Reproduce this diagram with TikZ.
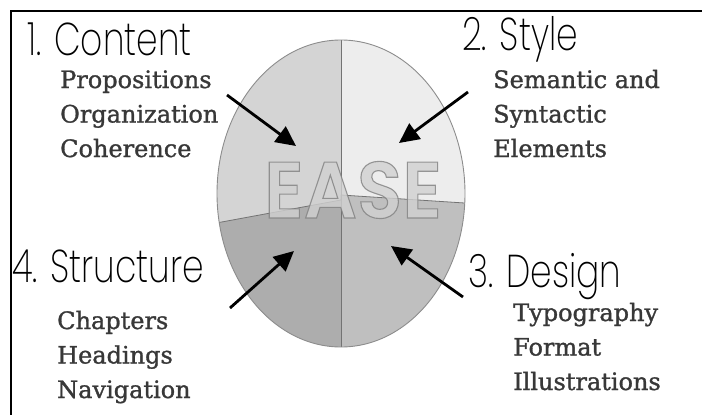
\documentclass[tikz,border=0pt]{standalone}
\usepackage{fontspec}
\usetikzlibrary{arrows.meta}
\newfontfamily\headfont[FakeStretch=0.75]{Poppins ExtraLight}
\newfontfamily\itemfont[FakeBold=1.2]{DejaVu Serif}
\newfontfamily\logofont[FakeStretch=0.93]{Poppins SemiBold}
% hollow letters: stroke the outline, fill with the text colour
\newcommand\hollow[1]{\special{pdf:literal direct 2 Tr 1.1 w 0.5 0.5 0.5 RG}#1\special{pdf:literal direct 0 Tr}}
\tikzset{
  head/.style={anchor=base west, inner sep=0pt, font=\headfont\fontsize{46}{46}\selectfont},
  items/.style={anchor=base west, align=left, inner sep=0pt, text=black!78,
    font=\itemfont\fontsize{24}{34.5}\selectfont},
  pointer/.style={-{Triangle[length=20pt,width=19pt]}, line width=2.8pt},
}
\begin{document}
\begin{tikzpicture}[x=1pt,y=-1pt]
\useasboundingbox (0,0) rectangle (702,415);
% frame
\draw[line width=2pt] (11,415) -- (11,11) -- (702,11);

% the four quarters of the ellipse
\begin{scope}
\clip (341,193.5) ellipse [x radius=124, y radius=153.5];
\fill[black!17] (200,0) -- (341,0) -- (341,200) -- (200,226) -- cycle;
\fill[black!32] (200,226) -- (341,200) -- (341,400) -- (200,400) -- cycle;
\fill[black!7] (341,0) -- (480,0) -- (480,204) -- (341,195) -- cycle;
\fill[black!25] (341,195) -- (480,204) -- (480,400) -- (341,400) -- cycle;
\draw[black!55, line width=0.8pt] (341,0) -- (341,400);
\draw[black!55, line width=0.8pt] (200,226) -- (341,200) -- (341,195) -- (480,204);
\end{scope}
\draw[black!45, line width=0.9pt] (341,193.5) ellipse [x radius=124, y radius=153.5];
\node[anchor=base, inner sep=0pt, opacity=0.8, text=black!18,
  font=\logofont\fontsize{80}{80}\selectfont] (ease) at (353,218) {\hollow{EASE}};

% 1. content (base is the last line)
\node[head] (content) at (27,55) {1. Content};
\node[items] (contentitems) at (60,157) {Propositions\\Organization\\Coherence};
\coordinate (contentfrom) at (227,95);
\coordinate (contentto) at (296,146);
\draw[pointer] (contentfrom) -- (contentto);

% 2. style
\node[head] (style) at (462,50) {2. Style};
\node[items] (styleitems) at (493,157) {Semantic and\\Syntactic\\Elements};
\coordinate (stylefrom) at (468,92);
\coordinate (styleto) at (399,143);
\draw[pointer] (stylefrom) -- (styleto);

% 3. design
\node[head] (design) at (468,287) {3. Design};
\node[items] (designitems) at (513,390) {Typography\\Format\\Illustrations};
\coordinate (designfrom) at (463,297);
\coordinate (designto) at (391,246);
\draw[pointer] (designfrom) -- (designto);

% 4. structure
\node[head] (structure) at (12,282) {4. Structure};
\node[items] (structureitems) at (57,398) {Chapters\\Headings\\Navigation};
\coordinate (structurefrom) at (230,308);
\coordinate (structureto) at (294,251);
\draw[pointer] (structurefrom) -- (structureto);
\end{tikzpicture}
\end{document}
